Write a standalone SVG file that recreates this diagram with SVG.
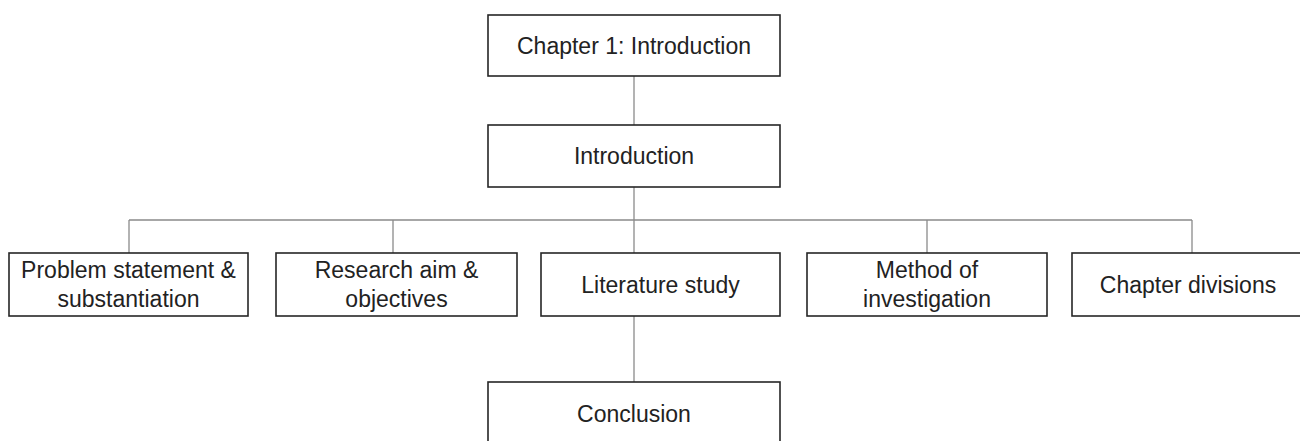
<svg xmlns="http://www.w3.org/2000/svg" width="1300" height="441" viewBox="0 0 1300 441">
  <style>
    .box { fill: #ffffff; stroke: #262626; stroke-width: 1.6; }
    .lbl { font-family: "Liberation Sans", Arial, sans-serif; font-size: 23px; fill: #222222; text-anchor: middle; }
    .wire { stroke: #8a8a8a; stroke-width: 1.3; fill: none; }
  </style>
  <rect width="1300" height="441" fill="#ffffff"/>

  <!-- org-chart wiring -->
  <g id="connectors">
    <line class="wire" x1="634" y1="76" x2="634" y2="125"/>
    <line class="wire" x1="634" y1="187" x2="634" y2="253"/>
    <line class="wire" x1="129" y1="220" x2="1192" y2="220"/>
    <line class="wire" x1="129" y1="220" x2="129" y2="253"/>
    <line class="wire" x1="393" y1="220" x2="393" y2="253"/>
    <line class="wire" x1="927" y1="220" x2="927" y2="253"/>
    <line class="wire" x1="1192" y1="220" x2="1192" y2="253"/>
    <line class="wire" x1="634" y1="316" x2="634" y2="382"/>
  </g>

  <g id="chapter1">
    <rect class="box" x="488" y="15" width="292" height="61"/>
    <text class="lbl" x="634" y="54">Chapter 1: Introduction</text>
  </g>

  <g id="introduction">
    <rect class="box" x="488" y="125" width="292" height="62"/>
    <text class="lbl" x="634" y="164">Introduction</text>
  </g>

  <g id="problem">
    <rect class="box" x="9" y="253" width="239" height="63"/>
    <text class="lbl" x="128.5" y="278">Problem statement &amp;</text>
    <text class="lbl" x="128.5" y="307">substantiation</text>
  </g>

  <g id="research">
    <rect class="box" x="276" y="253" width="241" height="63"/>
    <text class="lbl" x="396.5" y="278">Research aim &amp;</text>
    <text class="lbl" x="396.5" y="307">objectives</text>
  </g>

  <g id="literature">
    <rect class="box" x="541" y="253" width="239" height="63"/>
    <text class="lbl" x="660.5" y="293">Literature study</text>
  </g>

  <g id="method">
    <rect class="box" x="807" y="253" width="240" height="63"/>
    <text class="lbl" x="927" y="278">Method of</text>
    <text class="lbl" x="927" y="307">investigation</text>
  </g>

  <g id="divisions">
    <rect class="box" x="1072" y="253" width="240" height="63"/>
    <text class="lbl" x="1188" y="293">Chapter divisions</text>
  </g>

  <g id="conclusion">
    <rect class="box" x="488" y="382" width="292" height="64"/>
    <text class="lbl" x="634" y="422">Conclusion</text>
  </g>
</svg>
